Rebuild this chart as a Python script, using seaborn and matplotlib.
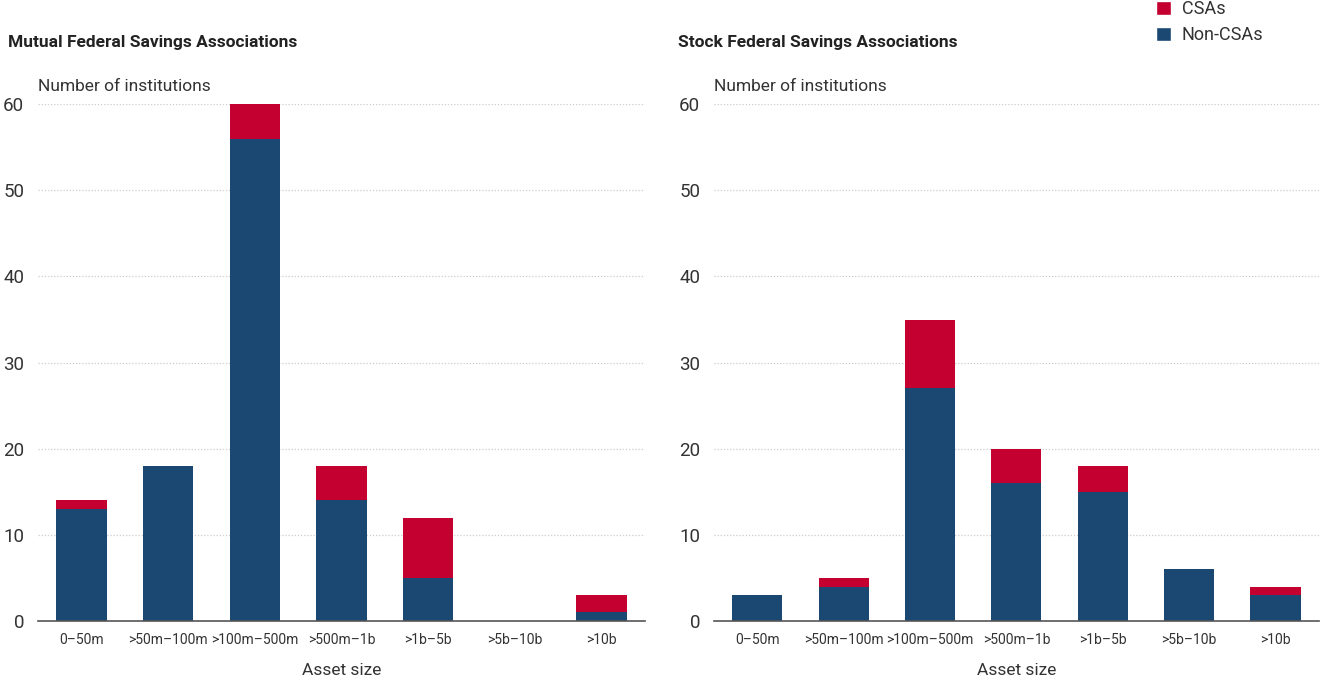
import matplotlib
matplotlib.use("Agg")
import matplotlib.pyplot as plt
import seaborn as sns
import pandas as pd
from matplotlib.patches import Patch

categories = ["0–50m", ">50m–100m", ">100m–500m", ">500m–1b", ">1b–5b", ">5b–10b", ">10b"]
mutual_non_csa = [13, 18, 56, 14, 5, 0, 1]
mutual_csa = [1, 0, 4, 4, 7, 0, 2]
stock_non_csa = [3, 4, 27, 16, 15, 6, 3]
stock_csa = [0, 1, 8, 4, 3, 0, 1]
titles = ["Mutual Federal Savings Associations", "Stock Federal Savings Associations"]
yticks = [0, 10, 20, 30, 40, 50, 60]

RED = "#C3002F"
NAVY = "#1B4872"

sns.set_theme(style="white")
plt.rcParams['font.family'] = ['Roboto', 'DejaVu Sans']

fig = plt.figure(figsize=(13.2, 6.9), dpi=100)
ax1 = fig.add_axes([0.0288, 0.1, 0.4598, 0.749])
ax2 = fig.add_axes([0.541, 0.1, 0.458, 0.749])

for ax, non, csa, title in [(ax1, mutual_non_csa, mutual_csa, titles[0]),
                            (ax2, stock_non_csa, stock_csa, titles[1])]:
    df = pd.DataFrame({"cat": categories, "non": non,
                       "total": [a + b for a, b in zip(non, csa)]})
    sns.barplot(data=df, x="cat", y="total", order=categories, color=RED,
                width=0.58, saturation=1, ax=ax, zorder=3, linewidth=0)
    sns.barplot(data=df, x="cat", y="non", order=categories, color=NAVY,
                width=0.58, saturation=1, ax=ax, zorder=4, linewidth=0)
    ax.set_xlim(-0.5, 6.5)
    ax.set_ylim(0, 60)
    ax.set_yticks(yticks)
    ax.set_yticklabels([str(t) for t in yticks], fontsize=13.5, color="#333333")
    ax.tick_params(axis="y", length=0, pad=10)
    ax.tick_params(axis="x", length=0, pad=9, labelsize=10, labelcolor="#333333")
    ax.set_xlabel("Asset size", fontsize=12.5, color="#333333", labelpad=11)
    ax.set_ylabel("")
    for s in ["top", "right", "left"]:
        ax.spines[s].set_visible(False)
    ax.spines["bottom"].set_color("#555555")
    ax.spines["bottom"].set_linewidth(1.2)
    ax.spines["bottom"].set_zorder(5)
    for t in yticks[1:]:
        ax.axhline(t, color="#cccccc", linestyle=(0, (1, 1.5)), linewidth=0.9, zorder=1)
    ax.text(0.0, 60 + 1.2, "Number of institutions", transform=ax.get_yaxis_transform(),
            fontsize=12.5, color="#333333", ha="left", va="bottom")

fig.text(8 / 1320, 1 - 43 / 690, titles[0], fontsize=12.5, fontweight="bold",
         color="#222222", ha="left", va="center")
fig.text(678 / 1320, 1 - 43 / 690, titles[1], fontsize=12.5, fontweight="bold",
         color="#222222", ha="left", va="center")

handles = [Patch(facecolor=RED, label="CSAs"), Patch(facecolor=NAVY, label="Non-CSAs")]
fig.legend(handles=handles, loc="upper left", bbox_to_anchor=(1140 / 1320, 1 + 16 / 690),
           frameon=False, fontsize=13, handlelength=0.8, handleheight=0.8,
           handletextpad=0.6, labelspacing=0.45, labelcolor="#333333")

fig.savefig("out.png", dpi=100)
